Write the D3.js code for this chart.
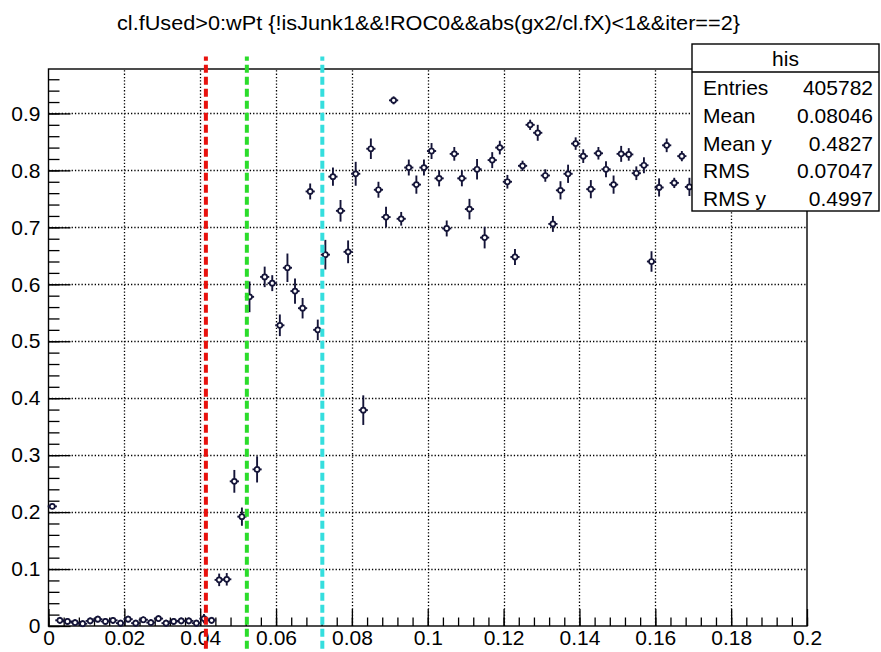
<!DOCTYPE html>
<html><head><meta charset="utf-8">
<script src="https://cdn.jsdelivr.net/npm/d3@7"></script>
<style>
body{margin:0;background:#fff}
svg{display:block}
text{font-family:"Liberation Sans",Arial,Helvetica,sans-serif;fill:#000}
</style>
</head><body>
<svg id="c" width="881" height="652"></svg>
<script>
// ---------------- data ----------------
const title = "cl.fUsed>0:wPt {!isJunk1&&!ROC0&&abs(gx2/cl.fX)<1&&iter==2}";
const binStart = 0;
const binWidth = 0.002;
// bin contents (bins 0..84 visible; later bins hidden under the stats box)
const binValues = [
  0.210, 0.010, 0.008, 0.006, 0.004, 0.009, 0.012, 0.008, 0.010, 0.005,
  0.012, 0.005, 0.011, 0.006, 0.013, 0.005, 0.008, 0.009, 0.009, 0.005,
  0.013, 0.010, 0.081, 0.082, 0.254, 0.192, 0.578, 0.275, 0.613, 0.602,
  0.528, 0.629, 0.588, 0.558, 0.763, 0.520, 0.652, 0.789, 0.729, 0.657,
  0.794, 0.379, 0.838, 0.766, 0.718, 0.923, 0.715, 0.805, 0.775, 0.805,
  0.834, 0.786, 0.698, 0.829, 0.786, 0.732, 0.802, 0.682, 0.818, 0.840,
  0.780, 0.648, 0.808, 0.880, 0.866, 0.791, 0.706, 0.765, 0.794, 0.847,
  0.825, 0.767, 0.830, 0.802, 0.775, 0.829, 0.828, 0.795, 0.809, 0.640,
  0.770, 0.844, 0.778, 0.825, 0.771
];
const binErrors = [
  0.005, 0.006, 0.006, 0.006, 0.006, 0.006, 0.006, 0.006, 0.006, 0.006,
  0.006, 0.006, 0.006, 0.006, 0.006, 0.006, 0.006, 0.006, 0.006, 0.006,
  0.008, 0.006, 0.011, 0.011, 0.020, 0.016, 0.027, 0.023, 0.018, 0.014,
  0.019, 0.025, 0.022, 0.018, 0.014, 0.018, 0.026, 0.016, 0.019, 0.020,
  0.021, 0.026, 0.018, 0.014, 0.018, 0.007, 0.012, 0.014, 0.016, 0.014,
  0.014, 0.014, 0.014, 0.012, 0.014, 0.018, 0.018, 0.019, 0.014, 0.012,
  0.012, 0.014, 0.009, 0.009, 0.014, 0.011, 0.014, 0.016, 0.016, 0.011,
  0.012, 0.016, 0.011, 0.014, 0.016, 0.014, 0.011, 0.012, 0.014, 0.018,
  0.016, 0.012, 0.009, 0.009, 0.016
];
const cutPositions = [0.0415, 0.0523, 0.0722];
const cutColors = ["#e8120e", "#2bdc2b", "#35dede"];
const xTicks = [0, 0.02, 0.04, 0.06, 0.08, 0.1, 0.12, 0.14, 0.16, 0.18, 0.2];
const xTickLabels = ["0","0.02","0.04","0.06","0.08","0.1","0.12","0.14","0.16","0.18","0.2"];
const yTicks = [0, 0.1, 0.2, 0.3, 0.4, 0.5, 0.6, 0.7, 0.8, 0.9];
const yTickLabels = ["0","0.1","0.2","0.3","0.4","0.5","0.6","0.7","0.8","0.9"];
const statsTitle = "his";
const statsNames = ["Entries", "Mean", "Mean y", "RMS", "RMS y"];
const statsValues = ["405782", "0.08046", "0.4827", "0.07047", "0.4997"];

// ---------------- layout ----------------
const L = 48.5, R = 807, T = 69, B = 626;
const xDomain = [0, 0.2], yDomain = [0, 0.978];
const markColor = "#141438";

const svg = d3.select("#c");
const x = d3.scaleLinear().domain(xDomain).range([L, R]);
const y = d3.scaleLinear().domain(yDomain).range([B, T]);

// title
svg.append("text")
  .attr("x", 117).attr("y", 30)
  .attr("font-size", 21)
  .attr("textLength", 623).attr("lengthAdjust", "spacingAndGlyphs")
  .text(title);

// grid
const grid = svg.append("g").attr("stroke", "#000").attr("stroke-width", 1.3)
  .attr("stroke-dasharray", "1.3,2");
grid.selectAll(".gx").data(xTicks.slice(1, -1)).join("line")
  .attr("x1", d => Math.round(x(d)) + 0.5).attr("x2", d => Math.round(x(d)) + 0.5)
  .attr("y1", B).attr("y2", T);
grid.selectAll(".gy").data(yTicks.slice(1)).join("line")
  .attr("y1", d => Math.round(y(d)) + 0.5).attr("y2", d => Math.round(y(d)) + 0.5)
  .attr("x1", L).attr("x2", R);

// axes (ticks pointing inward)
const xMinor = d3.range(0, 51).map(i => i * 0.004);
const yMinor = d3.range(0, 49).map(i => i * 0.02);

const gxMinor = svg.append("g").attr("transform", `translate(0,${B})`)
  .call(d3.axisBottom(x).tickValues(xMinor).tickSizeInner(-8.5).tickSizeOuter(0).tickFormat(""));
const gx = svg.append("g").attr("transform", `translate(0,${B})`)
  .call(d3.axisBottom(x).tickValues(xTicks).tickSizeInner(-17).tickSizeOuter(0).tickPadding(4)
    .tickFormat((d, i) => xTickLabels[i]));
const gyMinor = svg.append("g").attr("transform", `translate(${L},0)`)
  .call(d3.axisLeft(y).tickValues(yMinor).tickSizeInner(-11).tickSizeOuter(0).tickFormat(""));
const gy = svg.append("g").attr("transform", `translate(${L},0)`)
  .call(d3.axisLeft(y).tickValues(yTicks).tickSizeInner(-22).tickSizeOuter(0).tickPadding(8)
    .tickFormat((d, i) => yTickLabels[i]));
[gxMinor, gx, gyMinor, gy].forEach(g => {
  g.select(".domain").remove();
  g.selectAll("line").attr("stroke", "#000").attr("stroke-width", 1.3);
  g.selectAll("text").attr("font-size", 21).attr("fill", "#000")
    .style("font-family", '"Liberation Sans",Arial,sans-serif');
});

// frame
svg.append("rect").attr("x", L).attr("y", T).attr("width", R - L).attr("height", B - T)
  .attr("fill", "none").attr("stroke", "#000").attr("stroke-width", 1.4);

// data points with error bars
const pts = binValues.map((v, i) => ({
  lo: binStart + i * binWidth, hi: binStart + (i + 1) * binWidth, v, e: binErrors[i]
}));
const gData = svg.append("g");
const pg = gData.selectAll("g").data(pts).join("g");
pg.append("line")
  .attr("x1", d => x(d.lo) - 0.8).attr("x2", d => x(d.hi) + 0.8)
  .attr("y1", d => y(d.v)).attr("y2", d => y(d.v))
  .attr("stroke", markColor).attr("stroke-width", 1.9);
pg.append("line")
  .attr("x1", d => x((d.lo + d.hi) / 2)).attr("x2", d => x((d.lo + d.hi) / 2))
  .attr("y1", d => y(d.v - d.e)).attr("y2", d => y(d.v + d.e))
  .attr("stroke", markColor).attr("stroke-width", 1.9);
pg.append("circle")
  .attr("cx", d => x((d.lo + d.hi) / 2)).attr("cy", d => y(d.v))
  .attr("r", 2.5).attr("fill", "#fff").attr("stroke", markColor).attr("stroke-width", 1.7);

// cut lines
svg.append("g").selectAll("line").data(cutPositions).join("line")
  .attr("x1", d => x(d)).attr("x2", d => x(d))
  .attr("y1", y(-0.04)).attr("y2", y(1.0))
  .attr("stroke", (d, i) => cutColors[i]).attr("stroke-width", 4)
  .attr("stroke-dasharray", "8,4");

// stats box
const sb = svg.append("g");
const bx = 692, by = 44, bw = 187, bh = 167, hh = 28;
sb.append("rect").attr("x", bx).attr("y", by).attr("width", bw).attr("height", bh)
  .attr("fill", "#fff").attr("stroke", "#000").attr("stroke-width", 1.4);
sb.append("line").attr("x1", bx).attr("x2", bx + bw).attr("y1", by + hh).attr("y2", by + hh)
  .attr("stroke", "#000").attr("stroke-width", 1.3);
sb.append("text").attr("x", bx + bw / 2).attr("y", by + 22).attr("text-anchor", "middle")
  .attr("font-size", 21).text(statsTitle);
const rowY = d3.scalePoint().domain(statsNames).range([95, 206]);
sb.selectAll(".n").data(statsNames).join("text")
  .attr("x", 703).attr("y", d => rowY(d)).attr("font-size", 21).text(d => d);
sb.selectAll(".v").data(statsValues).join("text")
  .attr("x", 873).attr("y", (d, i) => rowY(statsNames[i])).attr("text-anchor", "end")
  .attr("font-size", 21).text(d => d);
</script>
</body></html>
